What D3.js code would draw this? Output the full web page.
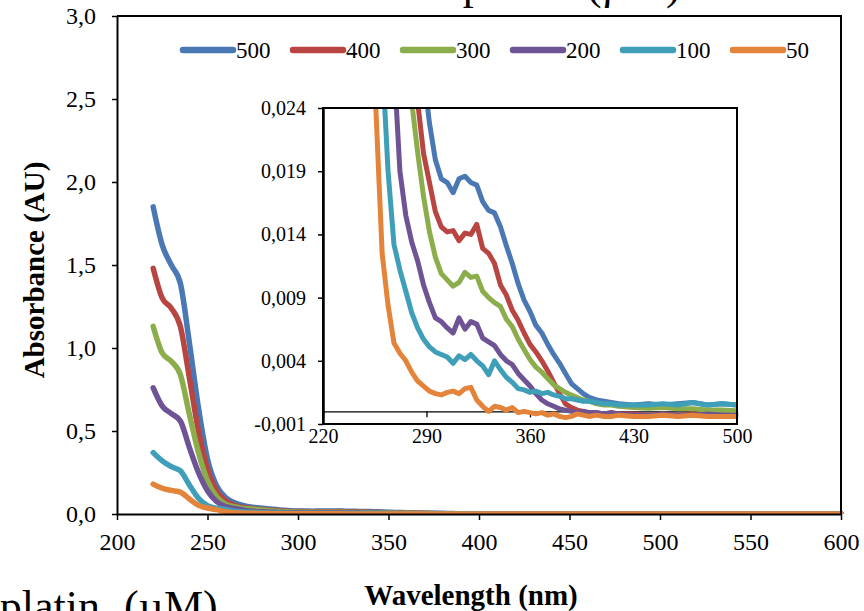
<!DOCTYPE html>
<meta charset="utf-8">
<style>
body { margin: 0; background: #fff; }
text { font-family: "Liberation Serif", "Times New Roman", serif; fill: #000; }
.axis path, .axis line { stroke: #000; }
</style>
<body>
<script src="https://d3js.org/d3.v7.min.js"></script>
<script>

// wavelengths (nm) shared by every series
var wavelength = [220,225,230,235,240,245,250,255,
  260,264,268,272,276,280,284,288,292,296,300,
  304,308,312,316,320,324,328,332,336,340,
  344,348,352,356,360,364,368,372,376,380,
  384,388,392,396,400,
  405,410,415,420,
  430,440,450,460,470,480,490,500,
  550,600];

// concentrations (legend) and absorbance values
var concentrations = ["500","400","300","200","100","50"];

var abs500 = [1.85,1.62,1.50,1.39,1.03,0.64,0.33,0.17,
  0.10,0.072,0.056,0.046,0.039,0.034,0.030,0.0268,0.0228,0.0199,0.0184,
  0.0181,0.0173,0.0184,0.0186,0.0181,0.0179,0.0166,0.0159,0.0157,0.0146,
  0.0131,0.0117,0.0101,0.0088,0.0079,0.0068,0.0062,0.0053,0.0045,0.0038,
  0.0030,0.0022,0.0018,0.0014,0.0011,
  0.0009,0.0008,0.0007,0.0006,
  0.0005,0.0006,0.0005,0.0006,0.0007,0.0005,0.0006,0.0005,
  0.0003,0.0002];

var abs400 = [1.48,1.30,1.24,1.13,0.82,0.50,0.27,0.14,
  0.080,0.055,0.043,0.036,0.031,0.027,0.0245,0.0204,0.0181,0.0158,0.0146,
  0.0142,0.0143,0.0135,0.0141,0.0140,0.0148,0.0129,0.0125,0.0117,0.0100,
  0.0092,0.0080,0.0072,0.0062,0.0053,0.0047,0.0040,0.0032,0.0023,0.0014,
  0.0006,0.0003,0.0001,0.0000,-0.0001,
  -0.0001,-0.0002,-0.0001,-0.0002,
  -0.0002,-0.0003,-0.0002,-0.0003,-0.0002,-0.0003,-0.0003,-0.0003,
  -0.0002,-0.0002];

var abs300 = [1.13,0.97,0.92,0.84,0.60,0.37,0.20,0.105,
  0.060,0.045,0.037,0.032,0.029,0.0245,0.0205,0.0170,0.0142,0.0122,0.0109,
  0.0104,0.0099,0.0102,0.0110,0.0106,0.0107,0.0095,0.0090,0.0086,0.0083,
  0.0073,0.0067,0.0057,0.0049,0.0041,0.0035,0.0031,0.0026,0.0021,0.0018,
  0.0015,0.0013,0.0011,0.0009,0.0008,
  0.0006,0.0005,0.0005,0.0004,
  0.0003,0.00025,0.0003,0.0002,0.0002,0.0001,0.0001,0.00005,
  0.0000,0.0000];

var abs200 = [0.76,0.65,0.605,0.56,0.40,0.25,0.14,0.075,
  0.045,0.035,0.0275,0.0190,0.0155,0.0134,0.0119,0.0100,0.0086,0.0074,0.0071,
  0.0066,0.0062,0.0074,0.0065,0.0071,0.0069,0.0058,0.0055,0.0052,0.0045,
  0.0040,0.0037,0.0030,0.0025,0.0020,0.0014,0.0009,0.0006,0.0004,0.0002,
  0.0001,0.0000,-0.0001,0.0000,-0.0001,
  -0.0001,-0.0002,-0.0001,-0.0002,
  -0.0003,-0.0003,-0.0002,-0.0003,-0.0003,-0.0002,-0.0003,-0.0003,
  -0.0002,-0.0002];

var abs100 = [0.37,0.32,0.285,0.26,0.175,0.095,0.050,0.035,
  0.028,0.019,0.0132,0.0112,0.0095,0.0078,0.0066,0.0057,0.0051,0.0047,0.0045,
  0.0043,0.0038,0.0044,0.0041,0.0045,0.0040,0.0036,0.0029,0.0040,0.0033,
  0.0027,0.0023,0.0018,0.0017,0.0015,0.0016,0.0014,0.0015,0.0013,0.0012,
  0.0010,0.0010,0.0009,0.0008,0.0008,
  0.0007,0.0006,0.0006,0.0005,
  0.0005,0.0005,0.0006,0.0005,0.0007,0.0005,0.0006,0.0005,
  0.0003,0.0003];

var abs50 = [0.18,0.155,0.142,0.132,0.090,0.052,0.036,0.026,
  0.0125,0.0084,0.0054,0.0046,0.0040,0.0031,0.0024,0.0020,0.0016,0.0014,0.0013,
  0.0015,0.0016,0.0014,0.0018,0.0019,0.0009,0.0004,0.0000,0.0004,0.0003,
  0.0001,0.0003,-0.0001,0.0000,-0.0001,-0.0002,-0.0001,-0.0003,-0.0002,-0.0004,
  -0.0005,-0.0004,-0.0002,-0.0003,-0.0004,
  -0.0003,-0.0004,-0.0004,-0.0003,
  -0.0004,-0.0004,-0.0003,-0.0004,-0.0003,-0.0004,-0.0004,-0.0004,
  -0.0004,-0.0004];

// tick values
var mainXTicks = [200,250,300,350,400,450,500,550,600];
var mainYTicks = [0,0.5,1,1.5,2,2.5,3];
var insetXTicks = [220,290,360,430,500];
var insetYTicks = [-0.001,0.004,0.009,0.014,0.019,0.024];

var seriesValues = [abs500, abs400, abs300, abs200, abs100, abs50];
var colors = ["#4a78b5","#b84542","#8cad4c","#6e5494","#3f9eb8","#e3843a"];

var series = concentrations.map(function(c, i) {
  return { name: c, color: colors[i],
    values: wavelength.map(function(w, j) { return { w: w, a: seriesValues[i][j] }; }) };
});

var commaFmt = function(d, n) {
  return (d < 0 ? "-" : "") + Math.abs(d).toFixed(n).replace(".", ",");
};

var svg = d3.select("body").append("svg")
    .attr("width", 864)
    .attr("height", 611);

// neighbouring figure text, clipped by the page edges
svg.append("text")
    .attr("x", 404).attr("y", -1)
    .attr("font-size", 44)
    .attr("word-spacing", 13)
    .text("Cisplatin (µM)");
svg.append("text")
    .attr("x", -59).attr("y", 621)
    .attr("font-size", 44)
    .attr("word-spacing", 13)
    .text("Cisplatin (µM)");

// ---------- main chart ----------
var x = d3.scaleLinear().domain([200, 600]).range([117, 841]);
var y = d3.scaleLinear().domain([0, 3]).range([514, 16]);

svg.append("clipPath").attr("id", "main-clip")
  .append("rect").attr("x", 117).attr("y", 12).attr("width", 728).attr("height", 502);

var mainLine = d3.line()
    .curve(d3.curveMonotoneX)
    .x(function(d) { return x(d.w); })
    .y(function(d) { return y(d.a); });

svg.append("g").attr("clip-path", "url(#main-clip)")
  .selectAll("path")
  .data(series)
  .enter().append("path")
    .attr("fill", "none")
    .attr("stroke", function(d) { return d.color; })
    .attr("stroke-width", 5.5)
    .attr("stroke-linejoin", "round")
    .attr("stroke-linecap", "round")
    .attr("d", function(d) { return mainLine(d.values); });

// plot area border (top and right)
svg.append("path")
    .attr("d", "M117,16H841V514")
    .attr("fill", "none")
    .attr("stroke", "#000")
    .attr("stroke-width", 2);

var xAxis = svg.append("g").attr("class", "axis")
    .attr("transform", "translate(0,514)")
    .call(d3.axisBottom(x).tickValues(mainXTicks).tickSize(6).tickSizeOuter(0)
      .tickPadding(13).tickFormat(d3.format("d")));
xAxis.select(".domain").attr("stroke-width", 2);
xAxis.selectAll(".tick line").attr("stroke-width", 1.5);
xAxis.selectAll("text").attr("font-size", 24).attr("font-family", null);

var yAxis = svg.append("g").attr("class", "axis")
    .attr("transform", "translate(117,0)")
    .call(d3.axisLeft(y).tickValues(mainYTicks).tickSize(5).tickSizeOuter(0)
      .tickPadding(16).tickFormat(function(d) { return commaFmt(d, 1); }));
yAxis.select(".domain").attr("stroke-width", 2);
yAxis.selectAll(".tick line").attr("stroke-width", 1.5);
yAxis.selectAll("text").attr("font-size", 24).attr("font-family", null);

// axis titles
svg.append("text")
    .attr("transform", "translate(34,270) rotate(-90)")
    .attr("text-anchor", "middle")
    .attr("dy", "0.35em")
    .attr("font-size", 29)
    .attr("font-weight", "bold")
    .text("Absorbance (AU)");

svg.append("text")
    .attr("x", 471).attr("y", 605)
    .attr("text-anchor", "middle")
    .attr("font-size", 29)
    .attr("font-weight", "bold")
    .text("Wavelength (nm)");

// legend
var legend = svg.append("g").selectAll("g")
  .data(series)
  .enter().append("g")
    .attr("transform", function(d, i) { return "translate(" + (183 + i * 110) + ",50)"; });
legend.append("line")
    .attr("x1", 0).attr("x2", 50)
    .attr("stroke", function(d) { return d.color; })
    .attr("stroke-width", 6.5)
    .attr("stroke-linecap", "round");
legend.append("text")
    .attr("x", 53).attr("y", 8)
    .attr("font-size", 23)
    .text(function(d) { return d.name; });

// ---------- inset ----------
var xi = d3.scaleLinear().domain([220, 500]).range([323, 737]);
var yi = d3.scaleLinear().domain([-0.001, 0.024]).range([424, 108]);

svg.append("rect")
    .attr("x", 323).attr("y", 108).attr("width", 414).attr("height", 316)
    .attr("fill", "#fff");

svg.append("clipPath").attr("id", "inset-clip")
  .append("rect").attr("x", 323).attr("y", 108).attr("width", 414).attr("height", 316);

// zero line with ticks
var zeroAxis = svg.append("g").attr("class", "axis")
    .attr("transform", "translate(0," + yi(0) + ")")
    .call(d3.axisBottom(xi).tickValues(insetXTicks).tickSize(6).tickSizeOuter(0)
      .tickFormat(""));
zeroAxis.select(".domain").attr("stroke-width", 1.3);
zeroAxis.selectAll(".tick line").attr("stroke-width", 1.3);

var insetLine = d3.line()
    .x(function(d) { return xi(d.w); })
    .y(function(d) { return yi(d.a); });

svg.append("g").attr("clip-path", "url(#inset-clip)")
  .selectAll("path")
  .data(series)
  .enter().append("path")
    .attr("fill", "none")
    .attr("stroke", function(d) { return d.color; })
    .attr("stroke-width", 5)
    .attr("stroke-linejoin", "round")
    .attr("d", function(d) {
      return insetLine(d.values.filter(function(v) { return v.w <= 500; }));
    });

svg.append("rect")
    .attr("x", 323).attr("y", 108).attr("width", 414).attr("height", 316)
    .attr("fill", "none")
    .attr("stroke", "#000")
    .attr("stroke-width", 2);

var yiAxis = svg.append("g").attr("class", "axis")
    .attr("transform", "translate(323,0)")
    .call(d3.axisLeft(yi).tickValues(insetYTicks).tickSize(5).tickSizeOuter(0)
      .tickPadding(12).tickFormat(function(d) { return commaFmt(d, 3); }));
yiAxis.select(".domain").attr("stroke-width", 2.5);
yiAxis.selectAll(".tick line").attr("stroke-width", 1.5);
yiAxis.selectAll("text").attr("font-size", 20).attr("font-family", null);

var xiAxis = svg.append("g").attr("class", "axis")
    .attr("transform", "translate(0,424)")
    .call(d3.axisBottom(xi).tickValues(insetXTicks).tickSize(0).tickPadding(5)
      .tickFormat(d3.format("d")));
xiAxis.select(".domain").remove();
xiAxis.selectAll("text").attr("font-size", 20).attr("font-family", null);

</script>
</body>
